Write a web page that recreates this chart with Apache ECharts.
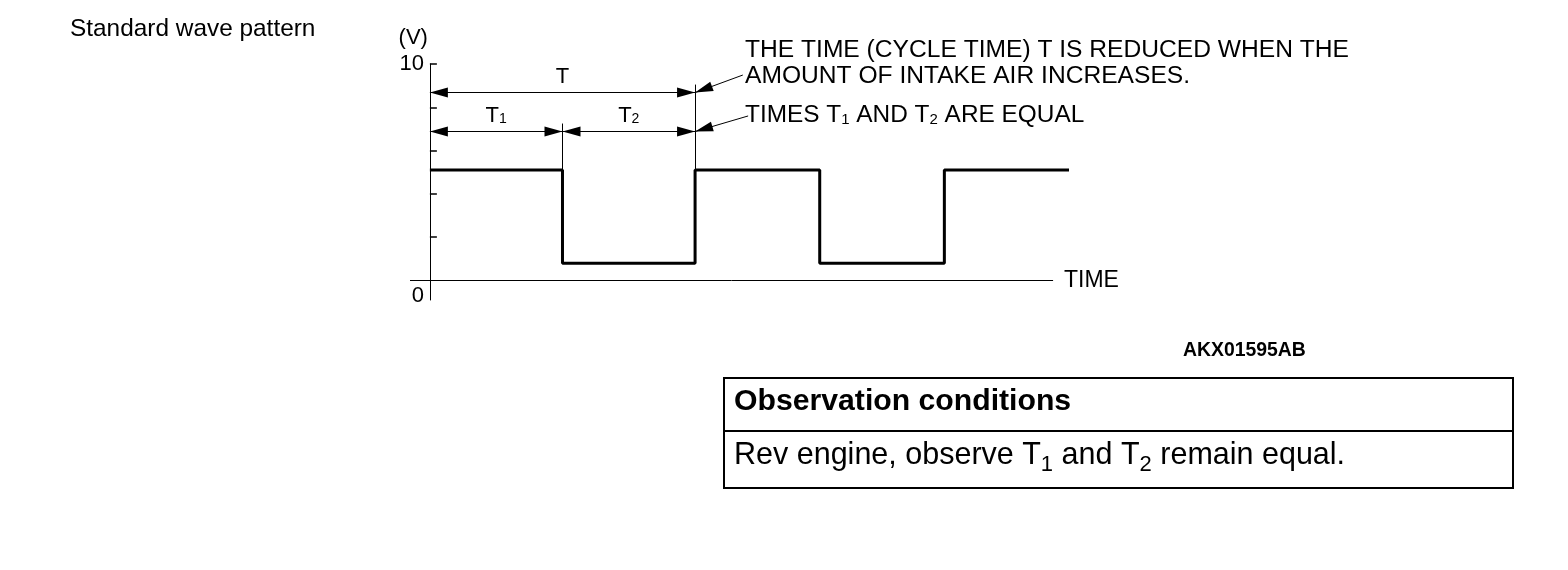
<!DOCTYPE html>
<html>
<head>
<meta charset="utf-8">
<title>Standard wave pattern</title>
<script src="https://cdn.jsdelivr.net/npm/echarts@6.0.0/dist/echarts.min.js"></script>
<style>
  html, body { margin: 0; padding: 0; background: #ffffff; }
  #chart { width: 1568px; height: 570px; }
</style>
</head>
<body>
<div id="chart"></div>
<script>
(function() {
    // waveform edges: time of each transition and the level held after it
    var edgeTimes = [0, 1, 2, 2.94, 3.88, 4.82];
    var edgeVolts = [5.1, 0.8, 5.1, 0.8, 5.1, 5.1];
    var tickValues = [2, 4, 6, 8, 10];
    var labelValues = [0, 10];

    var ink = '#000000';
    var font = '"Liberation Sans", Arial, Helvetica, sans-serif';

    var wave = edgeTimes.map(function(t, i) { return [t, edgeVolts[i]]; });

    var chart = echarts.init(document.getElementById('chart'), null, { renderer: 'canvas' });

    // arrow head placed so that its tip sits on the end point
    var head = { symbol: 'triangle', symbolSize: [10, 18], symbolOffset: [0, 9] };

    function dim(x0, x1, y, text) {
        return [
            Object.assign({ coord: [x0, y], label: {
                show: true, position: 'insideMiddleTop', distance: 5, formatter: text
            } }, head),
            Object.assign({ coord: [x1, y] }, head)
        ];
    }
    function plain(x0, y0, x1, y1) {
        return [{ coord: [x0, y0], symbol: 'none' }, { coord: [x1, y1], symbol: 'none' }];
    }
    function leader(x0, y0, x1, y1) {
        return [{ coord: [x0, y0], symbol: 'none' }, Object.assign({ coord: [x1, y1] }, head)];
    }

    var option = {
        animation: false,
        backgroundColor: '#ffffff',
        textStyle: { fontFamily: font, color: ink },
        grid: { left: 410, top: 64, width: 659, height: 236, containLabel: false },
        xAxis: {
            type: 'value',
            min: -0.15,
            max: 4.82,
            name: 'TIME',
            nameLocation: 'end',
            nameGap: -5,
            nameTextStyle: { fontSize: 23, color: ink, fontFamily: font, verticalAlign: 'middle' },
            // the time line is shorter than the trace, drawn below as a mark line
            axisLine: { show: false, onZero: true },
            axisTick: { show: false },
            axisLabel: { show: false },
            splitLine: { show: false }
        },
        yAxis: {
            type: 'value',
            min: -0.9,
            max: 10,
            name: '(V)',
            nameLocation: 'end',
            nameGap: 15,
            nameTextStyle: { fontSize: 22, color: ink, fontFamily: font, align: 'right', padding: [0, 2, 0, 0] },
            axisLine: { onZero: true, lineStyle: { color: ink, width: 1 } },
            axisTick: {
                show: true, inside: true, length: 7,
                customValues: tickValues,
                lineStyle: { color: ink, width: 1.5 }
            },
            axisLabel: {
                show: true,
                customValues: labelValues,
                margin: -14,
                fontSize: 22,
                color: ink,
                fontFamily: font,
                formatter: function(v) { return v === 0 ? '{z|0}' : String(v); },
                rich: { z: { fontSize: 22, color: ink, fontFamily: font, padding: [30, 0, 0, 0] } }
            },
            splitLine: { show: false }
        },
        series: [
            {
                name: 'Standard wave pattern',
                type: 'line',
                step: 'end',
                data: wave,
                symbol: 'none',
                clip: false,
                lineStyle: { color: ink, width: 3 },
                markLine: {
                    silent: true,
                    animation: false,
                    symbol: 'none',
                    lineStyle: { color: ink, width: 1, type: 'solid' },
                    label: {
                        show: false, color: ink, fontFamily: font, fontSize: 22,
                        rich: {
                            t: { fontSize: 22, lineHeight: 22, verticalAlign: 'bottom', color: ink, fontFamily: font },
                            s: { fontSize: 14, lineHeight: 14, verticalAlign: 'bottom', color: ink, fontFamily: font }
                        }
                    },
                    emphasis: { disabled: true },
                    data: [
                        plain(-0.15, 0, 4.7, 0),
                        plain(1, 7.25, 1, 5.1),
                        plain(2, 9.05, 2, 5.1),
                        dim(0, 2, 8.68, '{t|T}'),
                        dim(0, 1, 6.88, '{t|T}{s|1}'),
                        dim(1, 2, 6.88, '{t|T}{s|2}'),
                        leader(2.36, 9.49, 2, 8.68),
                        leader(2.4, 7.6, 2, 6.88)
                    ]
                }
            }
        ],
        graphic: [
            { type: 'text', x: 70, y: 29, style: { text: 'Standard wave pattern', font: '24.4px ' + font, fill: ink, verticalAlign: 'middle' } },
            { type: 'text', x: 745, y: 50, style: { text: 'THE TIME (CYCLE TIME) T IS REDUCED WHEN THE', font: '24.6px ' + font, fill: ink, verticalAlign: 'middle' } },
            { type: 'text', x: 745, y: 76, style: { text: 'AMOUNT OF INTAKE AIR INCREASES.', font: '24.6px ' + font, fill: ink, verticalAlign: 'middle' } },
            { type: 'text', x: 745, y: 115, style: {
                text: '{m|TIMES T}{s|1}{m| AND T}{s|2}{m| ARE EQUAL}',
                fill: ink, verticalAlign: 'middle',
                rich: {
                    m: { fontSize: 24.4, lineHeight: 24, fontFamily: font, fill: ink, verticalAlign: 'bottom' },
                    s: { fontSize: 15, lineHeight: 15, fontFamily: font, fill: ink, verticalAlign: 'bottom' }
                }
            } },
            { type: 'text', x: 1183, y: 351, style: { text: 'AKX01595AB', font: 'bold 19.4px ' + font, fill: ink, verticalAlign: 'middle' } },
            { type: 'rect', shape: { x: 724, y: 378, width: 789, height: 110 }, style: { fill: 'none', stroke: ink, lineWidth: 2 } },
            { type: 'line', shape: { x1: 724, y1: 431, x2: 1513, y2: 431 }, style: { stroke: ink, lineWidth: 2 } },
            { type: 'text', x: 734, y: 402, style: { text: 'Observation conditions', font: 'bold 30.2px ' + font, fill: ink, verticalAlign: 'middle' } },
            { type: 'text', x: 734, y: 456, style: {
                text: '{m|Rev engine, observe T}{s|1}{m| and T}{s|2}{m| remain equal.}',
                fill: ink, verticalAlign: 'middle',
                rich: {
                    m: { fontSize: 30.5, lineHeight: 34, fontFamily: font, fill: ink, verticalAlign: 'middle' },
                    s: { fontSize: 22, lineHeight: 22, fontFamily: font, fill: ink, verticalAlign: 'middle', padding: [18, 0, 0, 0] }
                }
            } }
        ]
    };

    chart.setOption(option);
    window.addEventListener('resize', function() { chart.resize(); });
})();
</script>
</body>
</html>
